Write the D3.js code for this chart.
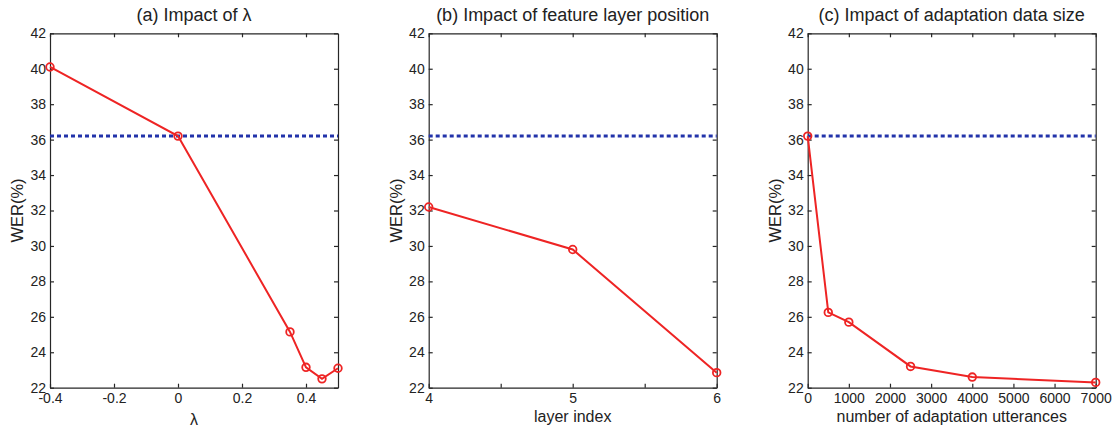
<!DOCTYPE html>
<html>
<head>
<meta charset="utf-8" />
<script src="https://cdn.jsdelivr.net/npm/d3@7"></script>
<style>
    body { margin: 0; background: #fff; }
    text { font-family: "Liberation Sans", Arial, sans-serif; fill: #222; }
    .axis path, .axis line { stroke: #262626; stroke-width: 1.2; }
    .axis text { font-size: 14px; }
</style>
</head>
<body>
<script>
    // data
    var baseline = 36.2;
    var yTicks = [22, 24, 26, 28, 30, 32, 34, 36, 38, 40, 42];

    var lambdaX = [-0.4, 0, 0.35, 0.4, 0.45, 0.5];
    var lambdaWer = [40.1, 36.2, 25.15, 23.15, 22.5, 23.1];
    var lambdaTicks = [-0.4, -0.2, 0, 0.2, 0.4];

    var layerX = [4, 5, 6];
    var layerWer = [32.2, 29.8, 22.85];
    var layerTicks = [4, 4.5, 5, 5.5, 6];

    var sizeX = [0, 500, 1000, 2500, 4000, 7000];
    var sizeWer = [36.2, 26.25, 25.7, 23.2, 22.6, 22.3];
    var sizeTicks = [0, 1000, 2000, 3000, 4000, 5000, 6000, 7000];

    var titles = ["(a) Impact of \u03bb", "(b) Impact of feature layer position", "(c) Impact of adaptation data size"];
    var xLabels = ["\u03bb", "layer index", "number of adaptation utterances"];

    var panels = [
        {x: lambdaX, y: lambdaWer, ticks: lambdaTicks, domain: [-0.4, 0.5], left: 50,
         fmt: function(d) { return d == 0 ? "0" : d.toFixed(1); }},
        {x: layerX, y: layerWer, ticks: layerTicks, domain: [4, 6], left: 428.7,
         fmt: function(d) { return d % 1 == 0 ? d : ""; }},
        {x: sizeX, y: sizeWer, ticks: sizeTicks, domain: [0, 7000], left: 807.7,
         fmt: function(d) { return d; }}
    ];

    var svgWidth = 1113, svgHeight = 431,
        plotW = 288, plotTop = 33.3, plotBottom = 387.7;

    var svg = d3.select("body").append("svg")
        .attr("width", svgWidth)
        .attr("height", svgHeight);

    var y = d3.scaleLinear().domain([22, 42]).range([plotBottom, plotTop]);

    panels.forEach(function(p, i) {
        var x = d3.scaleLinear().domain(p.domain).range([p.left, p.left + plotW]);
        var g = svg.append("g");

        // box with inward ticks on all sides
        g.append("g").attr("class", "axis")
            .attr("transform", "translate(0," + plotBottom + ")")
            .call(d3.axisBottom(x).tickValues(p.ticks).tickFormat(p.fmt)
                .tickSizeInner(-4).tickSizeOuter(0).tickPadding(5));
        g.append("g").attr("class", "axis")
            .attr("transform", "translate(0," + plotTop + ")")
            .call(d3.axisTop(x).tickValues(p.ticks).tickFormat("")
                .tickSizeInner(-4).tickSizeOuter(0));
        g.append("g").attr("class", "axis")
            .attr("transform", "translate(" + p.left + ",0)")
            .call(d3.axisLeft(y).tickValues(yTicks)
                .tickSizeInner(-4).tickSizeOuter(0).tickPadding(4));
        g.append("g").attr("class", "axis")
            .attr("transform", "translate(" + (p.left + plotW) + ",0)")
            .call(d3.axisRight(y).tickValues(yTicks).tickFormat("")
                .tickSizeInner(-4).tickSizeOuter(0));

        // baseline
        g.append("line")
            .attr("x1", p.left).attr("x2", p.left + plotW)
            .attr("y1", y(baseline)).attr("y2", y(baseline))
            .attr("stroke", "#2233aa")
            .attr("stroke-width", 3)
            .attr("stroke-dasharray", "4 3");

        var pts = p.x.map(function(v, j) { return [v, p.y[j]]; });
        g.append("path")
            .datum(pts)
            .attr("fill", "none")
            .attr("stroke", "#ee2424")
            .attr("stroke-width", 2)
            .attr("d", d3.line().x(function(d) { return x(d[0]); }).y(function(d) { return y(d[1]); }));
        g.selectAll("circle.pt").data(pts).enter().append("circle")
            .attr("class", "pt")
            .attr("cx", function(d) { return x(d[0]); })
            .attr("cy", function(d) { return y(d[1]); })
            .attr("r", 3.8)
            .attr("fill", "none")
            .attr("stroke", "#ee2424")
            .attr("stroke-width", 1.8);

        g.append("text")
            .attr("x", p.left + plotW / 2).attr("y", 21)
            .attr("text-anchor", "middle")
            .style("font-size", "18px")
            .text(titles[i]);
        g.append("text")
            .attr("x", p.left + plotW / 2).attr("y", i == 0 ? 425 : 422)
            .attr("text-anchor", "middle")
            .style("font-size", "16px")
            .text(xLabels[i]);
        g.append("text")
            .attr("transform", "translate(" + (p.left - 27) + "," + ((plotTop + plotBottom) / 2) + ") rotate(-90)")
            .attr("text-anchor", "middle")
            .style("font-size", "16.5px")
            .text("WER(%)");
    });
</script>
</body>
</html>
